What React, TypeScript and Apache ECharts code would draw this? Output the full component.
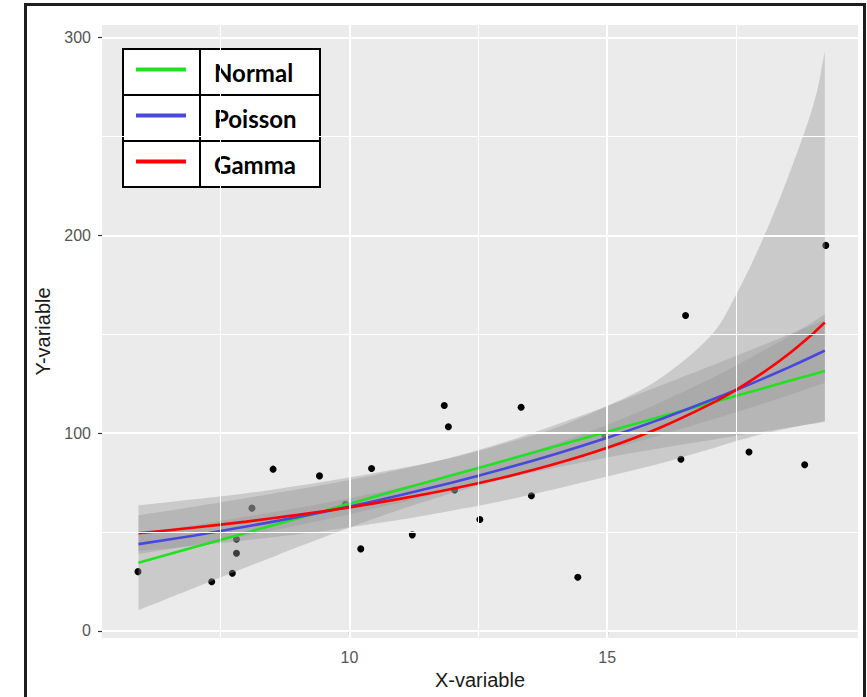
import React, { useEffect, useRef } from "react";
import * as echarts from "echarts";

// ---- tick labels / grid positions ----
const xTickValues = [10, 15];
const yTickValues = [0, 100, 200, 300];
const xMajorGrid = [10, 15];
const xMinorGrid = [7.5, 12.5, 17.5];
const yMajorGrid = [0, 100, 200, 300];
const yMinorGrid = [50, 150, 250];

// ---- observed points ----
const pointX = [5.9, 7.33, 7.73, 7.81, 7.81, 8.11, 8.52, 9.42, 9.92, 10.22, 10.43, 11.22, 11.84, 11.92, 12.04, 12.53, 13.33, 13.53, 14.43, 14.95, 16.43, 16.52, 17.75, 18.83, 19.24];
const pointY = [30.0, 24.9, 29.2, 39.3, 46.4, 62.1, 81.8, 78.4, 64.0, 41.5, 82.1, 48.6, 114.0, 103.2, 71.3, 56.4, 113.1, 68.4, 27.2, 99.1, 86.8, 159.5, 90.5, 84.0, 194.9];

// ---- fitted curves (x positions shared) ----
const fitX = [5.91, 7, 8, 9, 10, 11, 12, 13, 14, 15, 16, 17, 17.5, 18, 18.5, 19, 19.22];

const normalFit = [34.5, 42.4, 49.7, 57.0, 64.3, 71.6, 78.8, 86.1, 93.4, 100.7, 108.0, 115.2, 118.9, 122.5, 126.2, 129.8, 131.4];
const normalLo = [10.5, 21.9, 32.2, 42.4, 52.3, 61.5, 69.7, 76.8, 82.6, 87.7, 92.3, 96.5, 98.7, 100.7, 102.8, 104.8, 105.7];
const normalHi = [58.5, 62.9, 67.2, 71.6, 76.3, 81.7, 87.9, 95.4, 104.2, 113.7, 123.7, 133.9, 139.1, 144.3, 149.6, 154.8, 157.1];

const poissonFit = [43.9, 48.3, 52.8, 57.6, 62.9, 68.7, 75.1, 82.0, 89.5, 97.7, 106.7, 116.6, 121.8, 127.3, 133.0, 139.0, 141.7];
const poissonLo = [38.9, 43.5, 48.3, 53.4, 59.0, 65.0, 71.4, 78.0, 84.6, 91.6, 98.8, 106.6, 110.6, 114.7, 119.0, 123.5, 125.4];
const poissonHi = [49.5, 53.6, 57.8, 62.2, 67.1, 72.6, 79.0, 86.3, 94.6, 104.2, 115.2, 127.5, 134.2, 141.3, 148.6, 156.4, 160.1];

const gammaFit = [49.4, 52.3, 55.3, 58.7, 62.5, 66.9, 71.9, 77.7, 84.5, 92.6, 102.5, 114.7, 121.9, 130.2, 139.6, 150.5, 155.9];
const gammaLo = [40.4, 43.1, 45.9, 48.9, 52.4, 56.3, 60.9, 65.9, 71.8, 78.1, 84.5, 92.0, 96.0, 99.5, 102.4, 105.0, 106.2];
const gammaHi = [63.5, 66.6, 69.6, 73.4, 77.6, 82.3, 87.6, 94.6, 102.7, 113.7, 127.2, 149.0, 170.0, 197.0, 229.0, 266.0, 293.0];

// ---- legend ----
const legendNames = ["Normal", "Poisson", "Gamma"];
const legendColors = ["#22E022", "#4848DE", "#FF0000"];

const FONT = "'Liberation Sans', Arial, sans-serif";

// Catmull-Rom smoothing of pixel points (rendering only)
function smoothPts(pts: number[][], seg = 10): number[][] {
  const n = pts.length;
  const out: number[][] = [];
  for (let i = 0; i < n - 1; i++) {
    const p0 = pts[Math.max(i - 1, 0)];
    const p1 = pts[i];
    const p2 = pts[i + 1];
    const p3 = pts[Math.min(i + 2, n - 1)];
    for (let s = 0; s < seg; s++) {
      const t = s / seg;
      const t2 = t * t;
      const t3 = t2 * t;
      const f = (a: number, b: number, c: number, d: number) =>
        0.5 * (2 * b + (-a + c) * t + (2 * a - 5 * b + 4 * c - d) * t2 + (-a + 3 * b - 3 * c + d) * t3);
      out.push([f(p0[0], p1[0], p2[0], p3[0]), f(p0[1], p1[1], p2[1], p3[1])]);
    }
  }
  out.push(pts[n - 1]);
  return out;
}

function bandSeries(lo: number[], hi: number[]) {
  const rows = fitX.map((x, i) => [x, lo[i], hi[i]]);
  return {
    type: "custom",
    z: 3,
    silent: true,
    data: rows,
    encode: { x: 0, y: [1, 2] },
    renderItem: (params: any, api: any) => {
      if (params.dataIndex !== 0) return null;
      const top = smoothPts(rows.map((r) => api.coord([r[0], r[2]])));
      const bot = smoothPts(rows.map((r) => api.coord([r[0], r[1]]))).reverse();
      return {
        type: "polygon",
        shape: { points: top.concat(bot) },
        style: { fill: "rgba(153,153,153,0.4)" },
      };
    },
  };
}

function lineSeries(fit: number[], color: string) {
  return {
    type: "line",
    z: 4,
    silent: true,
    showSymbol: false,
    smooth: 0.25,
    data: fitX.map((x, i) => [x, fit[i]]),
    lineStyle: { color, width: 2.6 },
  };
}

export default function App() {
  const ref = useRef<HTMLDivElement>(null);

  useEffect(() => {
    if (!ref.current) return;
    const chart = echarts.init(ref.current, null, { renderer: "svg" });

    const gridLineData = [
      ...xMajorGrid.map((v) => ({ xAxis: v, lineStyle: { width: 2 } })),
      ...xMinorGrid.map((v) => ({ xAxis: v, lineStyle: { width: 1 } })),
      ...yMajorGrid.map((v) => ({ yAxis: v, lineStyle: { width: 2 } })),
      ...yMinorGrid.map((v) => ({ yAxis: v, lineStyle: { width: 1 } })),
    ];

    const rowTops = [49, 95, 141];
    const rowH = 46;
    const legendEls: any[] = [
      {
        type: "rect",
        shape: { x: 123, y: 49, width: 197, height: 138 },
        style: { fill: "#ffffff", stroke: "#000", lineWidth: 2 },
      },
      { type: "line", shape: { x1: 123, y1: 95, x2: 320, y2: 95 }, style: { stroke: "#000", lineWidth: 2 } },
      { type: "line", shape: { x1: 123, y1: 141, x2: 320, y2: 141 }, style: { stroke: "#000", lineWidth: 2 } },
      { type: "line", shape: { x1: 200, y1: 49, x2: 200, y2: 187 }, style: { stroke: "#000", lineWidth: 2 } },
    ];
    legendNames.forEach((name, i) => {
      const cy = rowTops[i] + rowH / 2;
      legendEls.push({
        type: "line",
        shape: { x1: 136, y1: cy - 2.5, x2: 186, y2: cy - 2.5 },
        style: { stroke: legendColors[i], lineWidth: 4 },
      });
      legendEls.push({
        type: "text",
        x: 214,
        y: cy,
        style: {
          text: name,
          fill: "#000",
          font: "bold 24px Lato, 'Open Sans', sans-serif",
          verticalAlign: "middle",
          align: "left",
        },
      });
    });

    chart.setOption({
      animation: false,
      backgroundColor: "#ffffff",
      grid: {
        left: 102,
        top: 25,
        width: 756,
        height: 613,
        show: true,
        backgroundColor: "#EBEBEB",
        borderWidth: 0,
        containLabel: false,
      },
      xAxis: {
        type: "value",
        min: 5.202,
        max: 19.864,
        axisLine: { show: false },
        axisTick: { show: true, customValues: xTickValues, length: 4, lineStyle: { color: "#333", width: 1.2 } },
        axisLabel: { customValues: xTickValues, color: "#555555", fontSize: 16, margin: 11, fontFamily: FONT },
        splitLine: { show: false },
        name: "X-variable",
        nameLocation: "middle",
        nameGap: 31,
        nameTextStyle: { fontSize: 20, color: "#1a1a1a", fontFamily: FONT },
      },
      yAxis: {
        type: "value",
        min: -3.54,
        max: 306.3,
        axisLine: { show: false },
        axisTick: { show: true, customValues: yTickValues, length: 4, lineStyle: { color: "#333", width: 1.2 } },
        axisLabel: { customValues: yTickValues, color: "#555555", fontSize: 16, margin: 11, fontFamily: FONT },
        splitLine: { show: false },
        name: "Y-variable",
        nameLocation: "middle",
        nameRotate: 90,
        nameGap: 42,
        nameTextStyle: { fontSize: 20, color: "#1a1a1a", fontFamily: FONT },
      },
      graphic: [
        {
          type: "rect",
          z: 100,
          shape: { x: 25.5, y: 4.5, width: 839, height: 720 },
          style: { fill: "none", stroke: "#1e1e1e", lineWidth: 3 },
          silent: true,
        },
        { type: "group", z: 100, children: legendEls },
      ],
      series: [
        {
          type: "line",
          z: 1,
          data: [],
          silent: true,
          markLine: {
            silent: true,
            symbol: ["none", "none"],
            label: { show: false },
            lineStyle: { color: "#ffffff", type: "solid" },
            emphasis: { disabled: true },
            data: gridLineData,
          },
        },
        {
          type: "scatter",
          z: 2,
          silent: true,
          symbolSize: 7,
          itemStyle: { color: "#000000", opacity: 1 },
          data: pointX.map((x, i) => [x, pointY[i]]),
        },
        bandSeries(normalLo, normalHi),
        bandSeries(poissonLo, poissonHi),
        bandSeries(gammaLo, gammaHi),
        lineSeries(normalFit, legendColors[0]),
        lineSeries(poissonFit, legendColors[1]),
        lineSeries(gammaFit, legendColors[2]),
      ],
    });

    return () => chart.dispose();
  }, []);

  return (
    <div
      ref={ref}
      style={{ position: "fixed", left: 0, top: 0, width: 867, height: 697 }}
    />
  );
}
